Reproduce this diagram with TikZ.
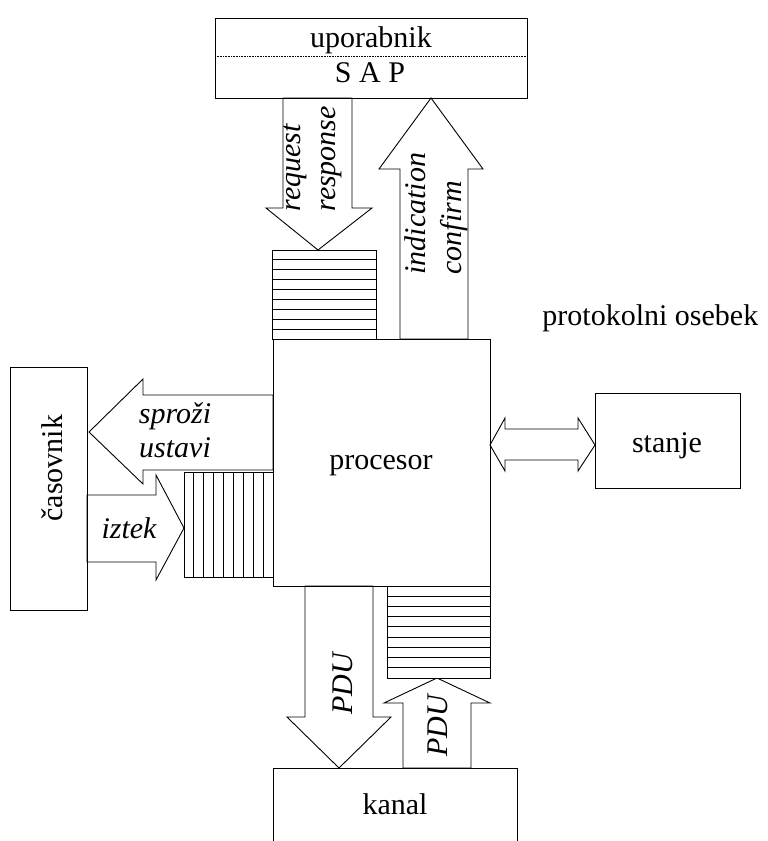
\documentclass[tikz,border=0pt]{standalone}
\usepackage{fontspec}
\setmainfont{Liberation Serif}
\usetikzlibrary{fit}
\begin{document}
\begin{tikzpicture}[x=1pt,y=-1pt, line width=0.9pt, line join=miter,
  box/.style={draw, inner sep=0pt, outer sep=0pt},
  txt/.style={font=\fontsize{30}{36}\selectfont, inner sep=0pt},
  itxt/.style={font=\fontsize{30}{36}\selectfont\itshape, inner sep=0pt},
  vtxt/.style={itxt, rotate=90, anchor=base west},
  blk/.style={draw, fill=white},
  queue/.style={draw, line width=1pt}]
\useasboundingbox (0,0) rectangle (768,841);

% block arrows between the components
\draw[blk] (283,98) -- (283,208) -- (266,208) -- (318,250) -- (372,208) -- (352,208) -- (352,98) -- cycle;
\draw[blk] (400,339) -- (400,169) -- (379,169) -- (431,98) -- (483,169) -- (468,169) -- (468,339) -- cycle;
\draw[blk] (273,395) -- (143,395) -- (143,379) -- (89,432) -- (143,484) -- (143,470) -- (273,470) -- cycle;
\draw[blk] (87,495) -- (156,495) -- (156,475) -- (184,528) -- (156,580) -- (156,562) -- (87,562) -- cycle;
\draw[blk] (305,586) -- (305,717) -- (287,717) -- (339,768) -- (391,717) -- (373,717) -- (373,586) -- cycle;
\draw[blk] (403,768) -- (403,703) -- (384,703) -- (437,678) -- (490,703) -- (471,703) -- (471,768) -- cycle;
\draw[blk] (490,445) -- (505,418) -- (505,429) -- (578,429) -- (578,418) -- (595,445)
  -- (578,471) -- (578,460) -- (505,460) -- (505,471) -- cycle;

% message queues
\draw[queue, fill=white] (272,250) rectangle (376,339);
\foreach \k in {1,...,8} \draw[queue] (272,{250+\k*9.9}) -- (376,{250+\k*9.9});
\draw[queue, fill=white] (387,586) rectangle (490,678);
\foreach \k in {1,...,8} \draw[queue] (387,{586+\k*10.2}) -- (490,{586+\k*10.2});
\draw[queue, fill=white] (184,472) rectangle (273,577);
\foreach \k in {1,...,8} \draw[queue] ({184+\k*9.9},472) -- ({184+\k*9.9},577);

% components
\node[box, fit={(215,18) (527,98)}] (sap) {};
\draw[densely dotted, line width=0.6pt] (sap.west |- 0,56) -- (sap.east |- 0,56);
\node[box, fit={(273,339) (490,586)}] (proc) {};
\node[box, fit={(10,367) (87,610)}] (clock) {};
\node[box, fit={(595,393) (740,488)}] (state) {};
\draw (273,841) -- (273,768) -- (517,768) -- (517,841);

% texts
\node[txt, anchor=base] (upor) at (371,47) {uporabnik};
\node[txt, anchor=base] (saplbl) at (370,82) {S A P};
\node[txt, anchor=base] (proclbl) at (381,469) {procesor};
\node[txt, anchor=base] (statelbl) at (667,452) {stanje};
\node[txt, anchor=base] (kanal) at (395,814) {kanal};
\node[txt, anchor=base west] (entity) at (542,325) {protokolni osebek};
\node[txt, rotate=90, anchor=base] (clocklbl) at (62,468) {časovnik};

\node[vtxt] (req) at (300,212) {request};
\node[vtxt] (resp) at (335,212) {response};
\node[vtxt] (ind) at (425,275) {indication};
\node[vtxt] (conf) at (461,275) {confirm};
\node[vtxt] (pdudown) at (352,715) {PDU};
\node[vtxt] (pduup) at (447,757) {PDU};

\node[itxt, anchor=base] (start) at (175,423) {sproži};
\node[itxt, anchor=base] (stop) at (175,457) {ustavi};
\node[itxt, anchor=base] (expire) at (129,538) {iztek};
\end{tikzpicture}
\end{document}
